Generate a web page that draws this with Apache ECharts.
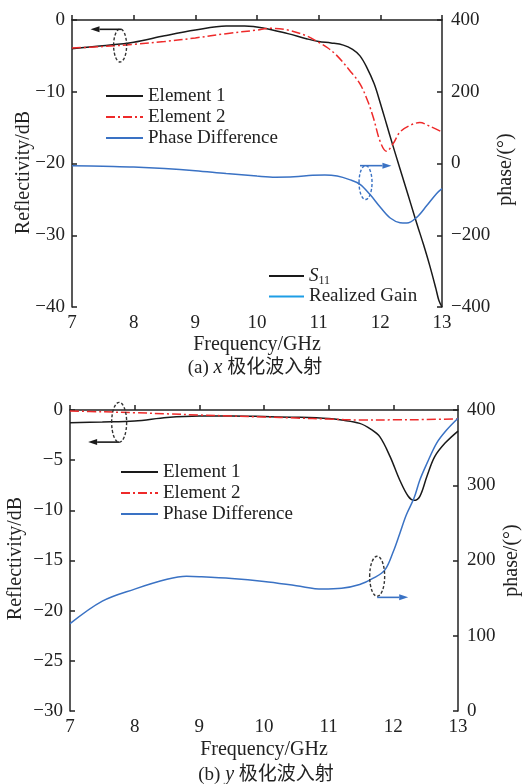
<!DOCTYPE html>
<html>
<head>
<meta charset="utf-8">
<script src="https://cdn.jsdelivr.net/npm/echarts@6/dist/echarts.min.js"></script>
<style>
html, body { margin: 0; padding: 0; background: #fff; }
#chart { width: 524px; height: 784px; }
</style>
</head>
<body>
<div id="chart"></div>
<script>
// ---- (a) x-polarised incidence ----
const freqA1 = [7, 7.5, 8, 8.5, 9, 9.5, 9.8, 10.1, 10.5, 10.8, 11, 11.2, 11.4, 11.55, 11.67, 11.78, 11.9, 12.0, 12.1, 12.2, 12.3, 12.4, 12.5, 12.6, 12.7, 12.8, 12.9, 12.95, 13];
const reflA1 = [-4.0, -3.6, -3.1, -2.2, -1.4, -0.85, -0.85, -1.1, -1.9, -2.6, -3.0, -3.2, -3.5, -4.1, -5.0, -6.6, -8.9, -11.6, -14.5, -17.4, -20.2, -23.0, -25.8, -28.6, -31.3, -34.2, -37.4, -39.1, -40];

const freqA2 = [7, 7.5, 8, 8.5, 9, 9.5, 10, 10.2, 10.5, 10.8, 11, 11.15, 11.3, 11.5, 11.67, 11.8, 11.89, 12.0, 12.1, 12.21, 12.32, 12.48, 12.64, 12.8, 13];
const reflA2 = [-3.9, -3.7, -3.4, -3.0, -2.5, -1.9, -1.4, -1.15, -1.4, -2.2, -3.1, -3.9, -5.0, -7.0, -8.9, -11.4, -13.7, -17.0, -18.3, -17.2, -15.6, -14.7, -14.3, -14.8, -15.6];

const freqAP = [7, 7.5, 8, 8.5, 9, 9.5, 10, 10.3, 10.6, 10.9, 11.1, 11.3, 11.5, 11.67, 11.83, 12.0, 12.16, 12.32, 12.43, 12.59, 12.75, 12.91, 13];
const phaseA = [-6, -8, -10, -14, -20, -28, -35, -38, -37, -33, -32, -35, -45, -58, -86, -122, -152, -165, -166, -150, -118, -84, -70];

// ---- (b) y-polarised incidence ----
const freqB1 = [7, 7.5, 8, 8.5, 9, 9.5, 10, 10.5, 11, 11.2, 11.48, 11.65, 11.79, 11.95, 12.1, 12.23, 12.32, 12.41, 12.52, 12.64, 12.8, 13];
const reflB1 = [-1.26, -1.2, -1.1, -0.75, -0.6, -0.6, -0.65, -0.72, -0.85, -1.0, -1.33, -1.9, -2.66, -4.65, -7.0, -8.6, -9.0, -8.6, -6.6, -4.65, -3.3, -2.1];

const freqB2 = [7, 7.5, 8, 8.5, 9, 9.5, 10, 10.5, 11, 11.5, 12, 12.5, 13];
const reflB2 = [-0.1, -0.18, -0.27, -0.38, -0.5, -0.6, -0.7, -0.8, -0.9, -1.0, -0.98, -0.95, -0.88];

const freqBP = [7, 7.5, 8, 8.5, 8.8, 9, 9.5, 10, 10.5, 10.9, 11.2, 11.48, 11.69, 11.87, 12.0, 12.1, 12.2, 12.32, 12.41, 12.52, 12.67, 12.82, 13];
const phaseB = [116, 146, 162, 175, 179, 178.5, 176, 172, 166.5, 162, 163, 168, 176.5, 187.5, 212, 236, 260.5, 283, 307, 329, 356, 373, 389];

// axis ticks
const freqTicks = { min: 7, max: 13, step: 1 };
const reflTicksA = { min: -40, max: 0, step: 10 };
const phaseTicksA = { min: -400, max: 400, step: 200 };
const reflTicksB = { min: -30, max: 0, step: 5 };
const phaseTicksB = { min: 0, max: 400, step: 100 };

const FONT = "'Liberation Serif', 'Times New Roman', 'DejaVu Serif', serif";
const INK = '#222';
const C_BLACK = '#1a1a1a';
const C_RED = '#ee2a2a';
const C_BLUE = '#3a72c4';
const C_LIGHTBLUE = '#1e9ee6';

const zip = (xs, ys) => xs.map((x, i) => [x, ys[i]]);
const minus = v => (v < 0 ? '\u2212' + Math.abs(v) : String(v));

function xAxisFor(gridIndex, gap) {
  return {
    type: 'value', gridIndex,
    min: freqTicks.min, max: freqTicks.max, interval: freqTicks.step,
    name: 'Frequency/GHz', nameLocation: 'middle', nameGap: gap, nameMoveOverlap: false,
    nameTextStyle: { fontFamily: FONT, fontSize: 20, color: INK },
    axisLine: { show: true, lineStyle: { color: INK, width: 1.5 } },
    axisTick: { show: true, inside: true, length: 5, lineStyle: { color: INK, width: 1.5 } },
    axisLabel: { fontFamily: FONT, fontSize: 19, color: INK, margin: 7 },
    splitLine: { show: false }
  };
}

function yAxisFor(gridIndex, ticks, pos, name, gap, shift) {
  return {
    type: 'value', gridIndex, position: pos,
    min: ticks.min, max: ticks.max, interval: ticks.step,
    name, nameLocation: 'middle', nameRotate: 90, nameGap: gap, nameMoveOverlap: false,
    nameTextStyle: {
      fontFamily: FONT, fontSize: 20, color: INK,
      padding: shift > 0 ? [0, shift * 2, 0, 0] : [0, 0, 0, -shift * 2]
    },
    axisLine: { show: true, onZero: false, lineStyle: { color: INK, width: 1.5 } },
    axisTick: { show: true, inside: true, length: 5, lineStyle: { color: INK, width: 1.5 } },
    axisLabel: { fontFamily: FONT, fontSize: 19, color: INK, margin: pos === 'left' ? 7 : 9, formatter: minus },
    splitLine: { show: false }
  };
}

const lineSeries = (name, data, color, xi, yi, dash) => ({
  name, type: 'line', xAxisIndex: xi, yAxisIndex: yi,
  data, smooth: 0.35, symbol: 'none',
  lineStyle: { color, width: 1.5, type: dash || 'solid' },
  itemStyle: { color },
  z: 3
});

const DASHDOT = [9, 3, 2, 3];

const legendBase = {
  orient: 'vertical',
  itemWidth: 37, itemHeight: 14, itemGap: 1,
  itemStyle: { opacity: 0 },
  textStyle: { fontFamily: FONT, fontSize: 19, color: INK, lineHeight: 20 },
  selectedMode: false
};

const option = {
  backgroundColor: '#fff',
  animation: false,
  grid: [
    { left: 72, top: 20, width: 370, height: 287, outerBoundsMode: 'none', containLabel: false },
    { left: 70, top: 410, width: 388, height: 301, outerBoundsMode: 'none', containLabel: false }
  ],
  xAxis: [xAxisFor(0, 28), xAxisFor(1, 29)],
  yAxis: [
    yAxisFor(0, reflTicksA, 'left', 'Reflectivity/dB', 38, 9),
    yAxisFor(0, phaseTicksA, 'right', 'phase/(\u00b0)', 54, 6),
    yAxisFor(1, reflTicksB, 'left', 'Reflectivity/dB', 44, -2),
    yAxisFor(1, phaseTicksB, 'right', 'phase/(\u00b0)', 44, 0)
  ],
  legend: [
    Object.assign({}, legendBase, {
      data: ['Element 1', 'Element 2', 'Phase Difference'],
      left: 100, top: 81
    }),
    Object.assign({}, legendBase, {
      data: ['S11', 'Realized Gain'],
      left: 263, top: 261, itemWidth: 35, itemGap: 0,
      formatter: n => (n === 'S11' ? '{i|S}{s|11}' : n),
      textStyle: {
        fontFamily: FONT, fontSize: 19, color: INK, lineHeight: 20,
        rich: {
          i: { fontFamily: FONT, fontSize: 19, fontStyle: 'italic', color: INK, lineHeight: 20 },
          s: { fontFamily: FONT, fontSize: 12, color: INK, padding: [9, 0, 0, 0] }
        }
      }
    }),
    Object.assign({}, legendBase, {
      data: ['Element 1 ', 'Element 2 ', 'Phase Difference '],
      left: 115, top: 457
    })
  ],
  series: [
    lineSeries('Element 1', zip(freqA1, reflA1), C_BLACK, 0, 0),
    lineSeries('Element 2', zip(freqA2, reflA2), C_RED, 0, 0, DASHDOT),
    lineSeries('Phase Difference', zip(freqAP, phaseA), C_BLUE, 0, 1),
    lineSeries('S11', [], C_BLACK, 0, 0),
    lineSeries('Realized Gain', [], C_LIGHTBLUE, 0, 0),
    lineSeries('Element 1 ', zip(freqB1, reflB1), C_BLACK, 1, 2),
    lineSeries('Element 2 ', zip(freqB2, reflB2), C_RED, 1, 2, DASHDOT),
    lineSeries('Phase Difference ', zip(freqBP, phaseB), C_BLUE, 1, 3)
  ]
};

const chart = echarts.init(document.getElementById('chart'), null, { renderer: 'canvas' });
chart.setOption(option);

// Callout marks: dashed ellipse around a curve group plus an arrow to its axis
const callouts = [
  { xi: 0, yi: 0, c: [7.78, -3.55], rx: 6.5, ry: 16.5, a0: [7.8, -1.3], a1: [7.3, -1.3], color: C_BLACK },
  { xi: 0, yi: 1, c: [11.76, -53], rx: 6.5, ry: 17, a0: [11.67, -6], a1: [12.18, -6], color: C_BLUE },
  { xi: 1, yi: 2, c: [7.76, -1.23], rx: 7.5, ry: 20, a0: [7.76, -3.2], a1: [7.28, -3.2], color: C_BLACK },
  { xi: 1, yi: 3, c: [11.75, 179], rx: 7.5, ry: 20, a0: [11.75, 151], a1: [12.23, 151], color: C_BLUE, ring: '#333' }
];

const px = (xi, yi, p) => chart.convertToPixel({ xAxisIndex: xi, yAxisIndex: yi }, p);
const graphics = [];
callouts.forEach(k => {
  const c = px(k.xi, k.yi, k.c);
  const p0 = px(k.xi, k.yi, k.a0);
  const p1 = px(k.xi, k.yi, k.a1);
  graphics.push({
    type: 'ellipse', shape: { cx: c[0], cy: c[1], rx: k.rx, ry: k.ry },
    style: { fill: null, stroke: k.ring || (k.color === C_BLUE ? C_BLUE : '#333'), lineWidth: 1.4, lineDash: [3, 2] },
    z: 10
  });
  const dir = Math.sign(p1[0] - p0[0]);
  const headLen = 9;
  graphics.push({
    type: 'line', shape: { x1: p0[0], y1: p0[1], x2: p1[0] - dir * headLen, y2: p1[1] },
    style: { stroke: k.color, lineWidth: 1.6 }, z: 10
  });
  graphics.push({
    type: 'polygon',
    shape: { points: [[p1[0], p1[1]], [p1[0] - dir * headLen, p1[1] - 3], [p1[0] - dir * headLen, p1[1] + 3]] },
    style: { fill: k.color }, z: 10
  });
});

// Panel captions
const capA = px(0, 0, [10, -40]);
const capB = px(1, 2, [10, -30]);
const captionStyle = (x, y, text) => ({
  type: 'text',
  style: {
    x, y, text, align: 'center', verticalAlign: 'middle',
    fontFamily: FONT + ", 'Noto Sans CJK SC'", fontSize: 19, fill: INK,
    rich: { i: { fontStyle: 'italic', fontFamily: FONT, fontSize: 20, fill: INK } }
  }
});
graphics.push(captionStyle(capA[0] - 2, 368, '(a) {i|x} 极化波入射'));
graphics.push(captionStyle(capB[0] + 2, 775, '(b) {i|y} 极化波入射'));
chart.setOption({ graphic: graphics });
</script>
</body>
</html>
